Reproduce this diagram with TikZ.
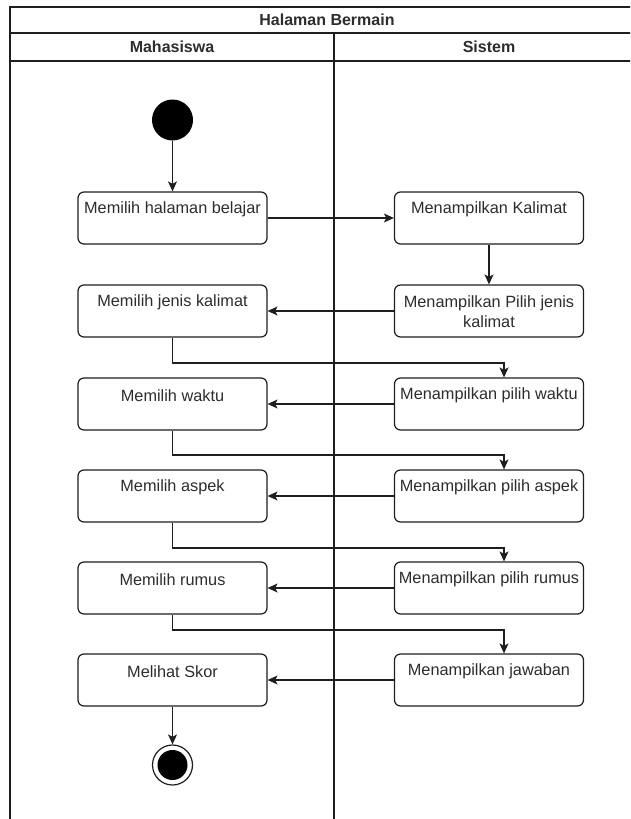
\documentclass[tikz,border=0pt]{standalone}
\usepackage{fontspec}
\setmainfont{Liberation Sans}
\usetikzlibrary{arrows.meta,calc}
\definecolor{ink}{RGB}{30,30,30}
\definecolor{txt}{RGB}{45,45,45}
\tikzset{
  box/.style={draw=ink, line width=1.2pt, rounded corners=6pt, minimum width=189pt, minimum height=52pt, inner sep=0pt, fill=white},
  lbl/.style={font=\fontsize{16.3}{20}\selectfont, text=txt, inner sep=0pt, align=center},
  hdr/.style={font=\fontsize{16}{20}\selectfont\bfseries, text=txt, inner sep=0pt},
  flow/.style={draw=ink, line width=1.2pt, -{Stealth[length=10pt,width=9pt,inset=2.5pt]}},
  frame/.style={draw=ink, line width=1.5pt},
}
\begin{document}
\begin{tikzpicture}[x=1pt,y=-1pt]
\useasboundingbox (0,0) rectangle (630,819);
\clip (0,0) rectangle (630,819);
% swimlane frame
\draw[frame] (10,819) -- (10,7) -- (650,7);
\draw[frame] (10,33) -- (650,33);
\draw[frame] (10,61) -- (650,61);
\draw[frame] (334,33) -- (334,819);
\node[hdr] (title) at (327,20) {Halaman Bermain};
\node[hdr] (laneA) at (172,47) {Mahasiswa};
\node[hdr] (laneB) at (489,47) {Sistem};
% start
\node[circle, fill=black, minimum size=41pt, inner sep=0pt] (start) at (172.5,120) {};
% boxes
\foreach \n/\t in {1/192,2/285,3/378,4/470,5/562,6/654}{
  \node[box] (L\n) at (172.5,\t+26) {};
  \node[box] (R\n) at (489,\t+26) {};
}
\node[lbl] (tL1) at ([yshift=-18pt]L1.north) {Memilih halaman belajar};
\node[lbl] (tR1) at ([yshift=-18pt]R1.north) {Menampilkan Kalimat};
\node[lbl] (tL2) at ([yshift=-18pt]L2.north) {Memilih jenis kalimat};
\node[lbl] (tR2) at ([yshift=-27pt]R2.north) {Menampilkan Pilih jenis\\kalimat};
\node[lbl] (tL3) at ([yshift=-18pt]L3.north) {Memilih waktu};
\node[lbl] (tR3) at ([yshift=-18pt]R3.north) {Menampilkan pilih waktu};
\node[lbl] (tL4) at ([yshift=-18pt]L4.north) {Memilih aspek};
\node[lbl] (tR4) at ([yshift=-18pt]R4.north) {Menampilkan pilih aspek};
\node[lbl] (tL5) at ([yshift=-18pt]L5.north) {Memilih rumus};
\node[lbl] (tR5) at ([yshift=-18pt]R5.north) {Menampilkan pilih rumus};
\node[lbl] (tL6) at ([yshift=-18pt]L6.north) {Melihat Skor};
\node[lbl] (tR6) at ([yshift=-18pt]R6.north) {Menampilkan jawaban};
% end
\node[circle, draw=ink, line width=1.2pt, fill=white, minimum size=40pt, inner sep=0pt] (endO) at (172.5,765) {};
\node[circle, fill=black, minimum size=30pt, inner sep=0pt] (endI) at (172.5,765) {};
% connectors
\draw[flow] (start) -- (L1);
\draw[flow] (L1.east) -- (R1.west);
\draw[flow] (R1.south) -- (R2.north);
\foreach \n in {2,3,4,5,6}{
  \draw[flow] (R\n.west) -- (L\n.east);
}
\coordinate (e2) at (504,363);
\coordinate (e3) at (504,455);
\coordinate (e4) at (504,548);
\coordinate (e5) at (504,630);
\draw[flow] (L2.south) |- (e2) -- (e2 |- R3.north);
\draw[flow] (L3.south) |- (e3) -- (e3 |- R4.north);
\draw[flow] (L4.south) |- (e4) -- (e4 |- R5.north);
\draw[flow] (L5.south) |- (e5) -- (e5 |- R6.north);
\draw[flow] (L6.south) -- (endO.north);
\end{tikzpicture}
\end{document}
